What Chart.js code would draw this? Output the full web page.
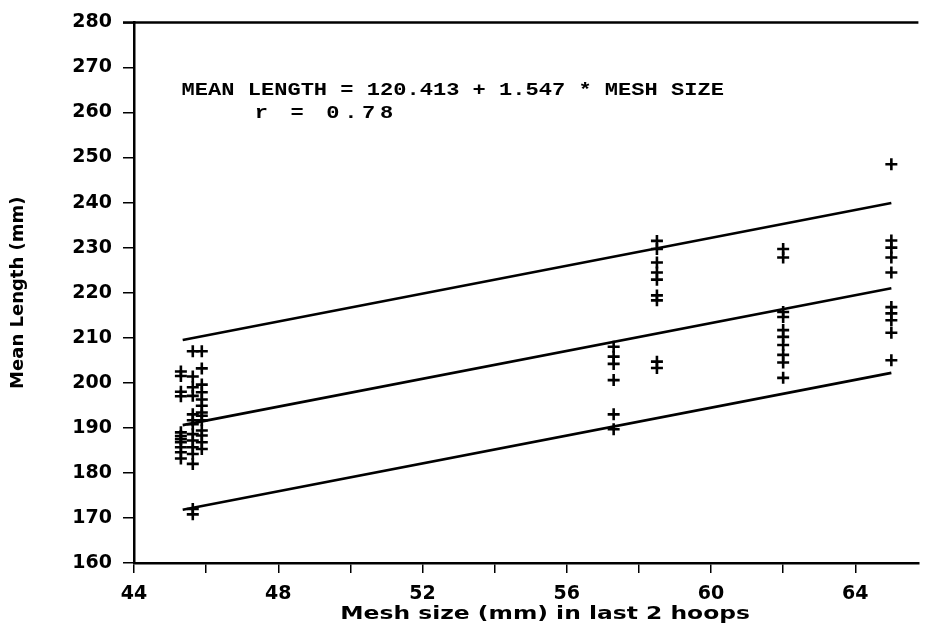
<!DOCTYPE html>
<html>
<head>
<meta charset="utf-8">
<script src="https://cdn.jsdelivr.net/npm/chart.js@4.4.1/dist/chart.umd.min.js"></script>
<style>
  html, body { margin: 0; padding: 0; background: #fff; }
  #wrap { width: 927px; height: 639px; }
</style>
</head>
<body>
<div id="wrap"><canvas id="meshchart"></canvas></div>
<script>
// mesh sizes (mm) of each column of samples
var meshSizes = [45.3, 45.63, 45.88, 57.3, 58.5, 62.0, 65.0];
// mean lengths (mm) read for each mesh size
var meanLengths = [
	[202.5, 201.5, 198, 197, 189, 188.2, 187.5, 186.8, 185.7, 184.6, 183.2],
	[207, 201.4, 199, 197.1, 193, 191.7, 190.8, 188.6, 187.2, 185.7, 184.2, 182, 172, 170.8],
	[207, 203.2, 199.6, 197.9, 196.3, 194.9, 193.4, 192.7, 191.7, 189.4, 188.3, 186.8, 185.3],
	[208, 205.8, 204.2, 200.6, 193, 189.7],
	[231.5, 229.7, 226.7, 224.5, 222.9, 219.4, 218.3, 204.7, 203.3],
	[229.7, 227.8, 215.7, 214.6, 211.7, 210.2, 208.4, 206.2, 204.5, 201.1],
	[248.5, 231.6, 230, 227.8, 224.5, 216.8, 215.4, 213.9, 211.1, 205]
];

// regression line and its band, end points
var fitMesh = [45.35, 65.0];
var fitUpper = [209.5, 239.9];
var fitMean = [190.6, 221.0];
var fitLower = [171.8, 202.2];

var xTickValues = [44, 46, 48, 50, 52, 54, 56, 58, 60, 62, 64];
var xTickLabels = [44, 48, 52, 56, 60, 64];
var equationText = "MEAN LENGTH = 120.413 + 1.547 * MESH SIZE";
var rText = "r = 0.78";
var xTitle = "Mesh size (mm) in last 2 hoops";
var yTitle = "Mean Length (mm)";

var points = [];
meshSizes.forEach(function(m, i) {
	meanLengths[i].forEach(function(v) {
		points.push({ x: m, y: v });
	});
});

function fitLine(vals) {
	return fitMesh.map(function(m, i) { return { x: m, y: vals[i] }; });
}

function lineSet(vals) {
	return {
		type : "line",
		data : fitLine(vals),
		borderColor : "#000",
		borderWidth : 2.6,
		pointRadius : 0,
		fill : false,
		tension : 0
	};
}

var tickFont = { family : "DejaVu Sans", weight : "bold", size : 19 };

// frame line on top + text annotations
var extras = {
	id : "extras",
	afterDraw : function(chart) {
		var c = chart.ctx, a = chart.chartArea;
		var xs = chart.scales.x, ys = chart.scales.y;
		c.save();
		c.strokeStyle = "#000";
		c.lineWidth = 2.5;
		c.beginPath();
		c.moveTo(a.left - 11, a.top);
		c.lineTo(a.right, a.top);
		c.stroke();

		c.fillStyle = "#000";
		c.textBaseline = "middle";
		c.textAlign = "left";
		c.font = "bold 19px 'Liberation Mono'";
		c.save();
		c.translate(xs.getPixelForValue(45.32), ys.getPixelForValue(265.0));
		c.scale(1.16, 1);
		c.fillText(equationText, 0, 0);
		c.restore();
		c.save();
		c.translate(xs.getPixelForValue(47.35), ys.getPixelForValue(259.9));
		c.scale(1.16, 1);
		c.letterSpacing = "4px";
		c.fillText(rText, 0, 0);
		c.restore();

		c.font = "bold 18px 'DejaVu Sans'";
		c.textAlign = "center";
		c.save();
		c.translate(xs.getPixelForValue(55.4), a.bottom + 51);
		c.scale(1.3, 1);
		c.fillText(xTitle, 0, 0);
		c.restore();
		c.restore();
	}
};

var ctx = document.getElementById("meshchart");

var chart = new Chart(ctx, {
	type : "scatter",
	data : {
		datasets : [
			{
				data : points,
				pointStyle : "cross",
				pointRadius : 6,
				pointBorderWidth : 2.6,
				borderColor : "#000",
				backgroundColor : "#000"
			},
			lineSet(fitUpper),
			lineSet(fitMean),
			lineSet(fitLower)
		]
	},
	options : {
		responsive : true,
		maintainAspectRatio : false,
		animation : false,
		layout : { padding : { top : 19, right : 0, bottom : 0, left : 0 } },
		plugins : {
			legend : { display : false },
			tooltip : { enabled : false }
		},
		scales : {
			x : {
				type : "linear",
				min : 44,
				max : 65.75,
				afterBuildTicks : function(s) {
					s.ticks = xTickValues.map(function(v) { return { value : v }; });
				},
				afterFit : function(s) { s.height = 76; },
				ticks : {
					autoSkip : false,
					maxRotation : 0,
					padding : 10,
					color : "#000",
					font : tickFont,
					callback : function(v) { return xTickLabels.indexOf(v) >= 0 ? v : ""; }
				},
				grid : { drawOnChartArea : false, tickLength : 10, color : "#000", lineWidth : 1.5 },
				border : { color : "#000", width : 2.5 }
			},
			y : {
				type : "linear",
				min : 160,
				max : 280,
				afterFit : function(s) { s.width = 134; },
				ticks : {
					stepSize : 10,
					padding : 11,
					color : "#000",
					font : tickFont
				},
				grid : { drawOnChartArea : false, tickLength : 11, color : "#000", lineWidth : 1.5 },
				border : { color : "#000", width : 2.5 },
				title : {
					display : true,
					text : yTitle,
					color : "#000",
					font : { family : "DejaVu Sans", weight : "bold", size : 18 },
					padding : { top : 8, bottom : 0 }
				}
			}
		}
	},
	plugins : [extras]
});
</script>
</body>
</html>
